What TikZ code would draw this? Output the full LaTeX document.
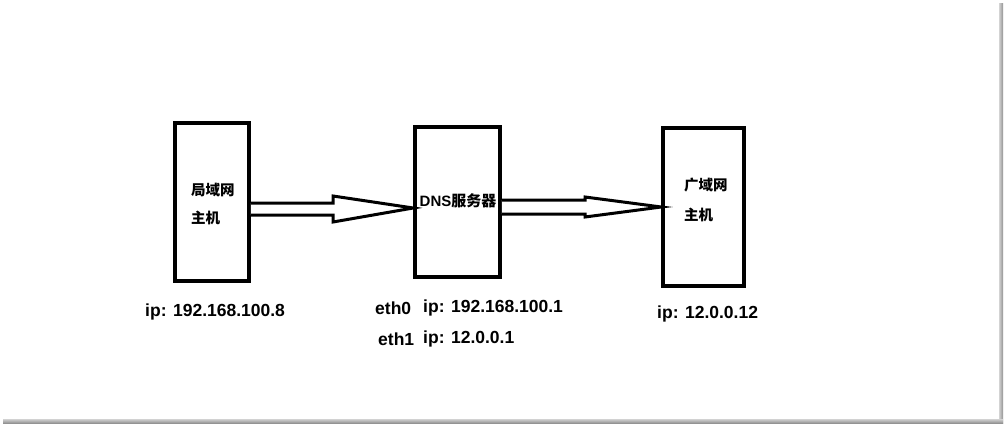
\documentclass[tikz,border=0pt]{standalone}
\usepackage{fontspec}
\setmainfont{Liberation Sans}
\newfontfamily\cjk{Noto Sans CJK SC}
\usetikzlibrary{calc}
\begin{document}
\begin{tikzpicture}[x=1pt,y=-1pt,
  hostbox/.style={draw=black,line width=3.5pt,fill=white,minimum width=#1,inner sep=0pt},
  cjktext/.style={anchor=west,inner sep=0pt,font=\cjk\bfseries\fontsize{14.5}{16}\selectfont},
  iplabel/.style={anchor=west,inner sep=0pt,font=\bfseries\fontsize{17.5}{20}\selectfont},
  fatarrow/.style={draw=black,line width=3pt,fill=white,line join=miter,miter limit=20}]
\useasboundingbox (0,0) rectangle (1004,425);
\fill[white] (0,0) rectangle (1004,425);
% frame shadow
\shade[left color=gray!35,right color=gray!85] (999,4) rectangle (1003,423);
\shade[top color=gray!35,bottom color=gray!85] (3,419) rectangle (1003,423);
% boxes
\node[hostbox=74pt,minimum height=158pt] (b1) at (212,202) {};
\node[hostbox=85pt,minimum height=150pt] (b2) at (457.5,202) {};
\node[hostbox=81pt,minimum height=158pt] (b3) at (703.5,207) {};
% box texts
\node[cjktext] (t1a) at (191,190) {局域网};
\node[cjktext] (t1b) at (191,218) {主机};
\node[anchor=center,inner sep=0pt,font=\bfseries\fontsize{15}{17}\selectfont] (t2) at (458,201) {DNS{\cjk\bfseries 服务器}};
\node[cjktext] (t3a) at (684,185) {广域网};
\node[cjktext] (t3b) at (684,215) {主机};
% arrows
\draw[fatarrow] ($(b1.east)+(0,1)$) -- (333,203) -- (333,196) -- ($(b2.west)+(0,6)$)
   -- (333,222) -- (333,215) -- ($(b1.east)+(0,13)$);
\draw[fatarrow] ($(b2.east)+(0,-2)$) -- (585,200) -- (585,197) -- (b3.west)
   -- (585,217) -- (585,214) -- ($(b2.east)+(0,12)$);
% labels
\node[iplabel] (ip1) at (145,312) {ip: 192.168.100.8};
\node[iplabel] (e0) at (375,308) {eth0};
\node[iplabel] (ip2a) at (423,308) {ip: 192.168.100.1};
\node[iplabel] (e1) at (378,339) {eth1};
\node[iplabel] (ip2b) at (423,339) {ip: 12.0.0.1};
\node[iplabel] (ip3) at (657,314) {ip: 12.0.0.12};
\end{tikzpicture}
\end{document}
